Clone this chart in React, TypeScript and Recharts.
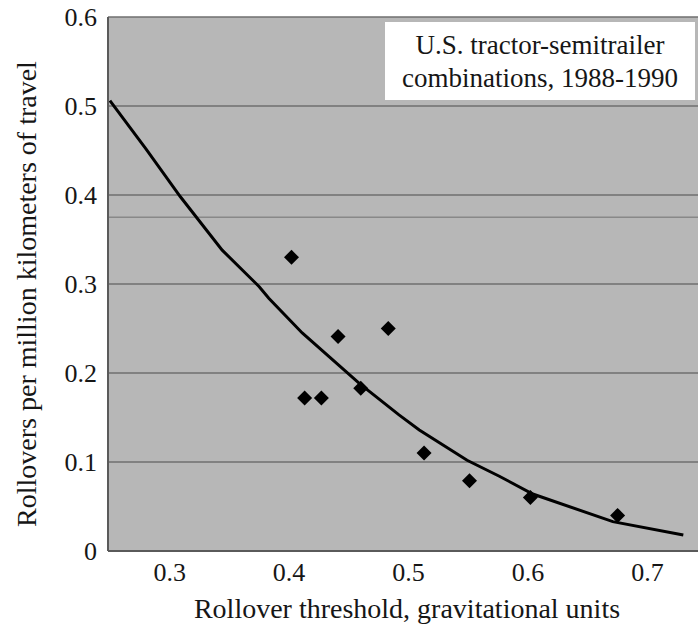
import {
  ComposedChart,
  Scatter,
  Line,
  XAxis,
  YAxis,
  CartesianGrid,
  ReferenceLine,
  Label,
} from "recharts";

// observed rollover rates (diamonds)
const thresholdObs = [0.402, 0.413, 0.427, 0.441, 0.46, 0.483, 0.513, 0.551, 0.602, 0.675];
const rateObs = [0.33, 0.172, 0.172, 0.241, 0.183, 0.25, 0.11, 0.079, 0.06, 0.04];

// fitted curve
const thresholdFit = [0.25, 0.28, 0.309, 0.344, 0.375, 0.383, 0.411, 0.459, 0.492, 0.509, 0.549, 0.576, 0.604, 0.671, 0.73];
const rateFit = [0.506, 0.452, 0.398, 0.338, 0.297, 0.284, 0.245, 0.188, 0.153, 0.136, 0.102, 0.084, 0.064, 0.033, 0.018];

const xTicks = [0.3, 0.4, 0.5, 0.6, 0.7];
const yTicks = [0, 0.1, 0.2, 0.3, 0.4, 0.5, 0.6];
const extraLine = 0.375; // faint extra rule in the scan

const observed = thresholdObs.map((x, i) => ({ x, y: rateObs[i] }));
const fitted = thresholdFit.map((x, i) => ({ x, y: rateFit[i] }));

const serif = "Liberation Serif";
const ink = "#161616";

const Diamond = (props: any) => {
  const { cx, cy } = props;
  const r = 7.5;
  return (
    <polygon
      points={`${cx},${cy - r} ${cx + r},${cy} ${cx},${cy + r} ${cx - r},${cy}`}
      fill="#000"
    />
  );
};

export default function App() {
  return (
    <div
      style={{
        position: "absolute",
        left: 0,
        top: 0,
        width: 698,
        height: 629,
        background: "#fff",
        fontFamily: serif,
      }}
    >
      <ComposedChart
        width={698}
        height={629}
        margin={{ top: 17, right: 0, bottom: 0, left: 0 }}
      >
        <CartesianGrid fill="#b7b7b7" stroke="#6f6f6f" strokeWidth={1.5} vertical={false} />
        <XAxis
          type="number"
          dataKey="x"
          domain={[0.2484, 0.7423]}
          allowDataOverflow
          ticks={xTicks}
          tickFormatter={(v: number) => v.toFixed(1)}
          height={78}
          tickSize={0}
          tickMargin={12}
          axisLine={{ stroke: "#5a5a5a", strokeWidth: 2 }}
          tick={{ fill: ink, fontSize: 26, fontFamily: serif }}
        >
          <Label
            content={() => (
              <text
                x={407}
                y={618}
                textAnchor="middle"
                fill={ink}
                fontSize={28}
                fontFamily={serif}
              >
                Rollover threshold, gravitational units
              </text>
            )}
          />
        </XAxis>
        <YAxis
          type="number"
          dataKey="y"
          domain={[0, 0.6]}
          ticks={yTicks}
          tickFormatter={(v: number) => (v === 0 ? "0" : v.toFixed(1))}
          width={108}
          tickSize={0}
          tickMargin={11}
          axisLine={{ stroke: "#5a5a5a", strokeWidth: 2 }}
          tick={{ fill: ink, fontSize: 26, fontFamily: serif }}
        >
          <Label
            content={() => (
              <text
                x={0}
                y={0}
                transform="translate(36, 294) rotate(-90)"
                textAnchor="middle"
                fill={ink}
                fontSize={28}
                fontFamily={serif}
              >
                Rollovers per million kilometers of travel
              </text>
            )}
          />
        </YAxis>
        <ReferenceLine y={extraLine} stroke="#888" strokeWidth={1.5} />
        <Line
          data={fitted}
          dataKey="y"
          type="linear"
          stroke="#000"
          strokeWidth={3}
          dot={false}
          isAnimationActive={false}
        />
        <Scatter data={observed} dataKey="y" shape={Diamond} isAnimationActive={false} />
      </ComposedChart>
      <div
        style={{
          position: "absolute",
          left: 385,
          top: 22,
          width: 310,
          height: 76,
          paddingTop: 2,
          background: "#fff",
          fontFamily: serif,
          fontSize: 27,
          lineHeight: "33px",
          color: ink,
          textAlign: "center",
          display: "flex",
          flexDirection: "column",
          justifyContent: "center",
        }}
      >
        <div>U.S. tractor-semitrailer</div>
        <div>combinations, 1988-1990</div>
      </div>
    </div>
  );
}
